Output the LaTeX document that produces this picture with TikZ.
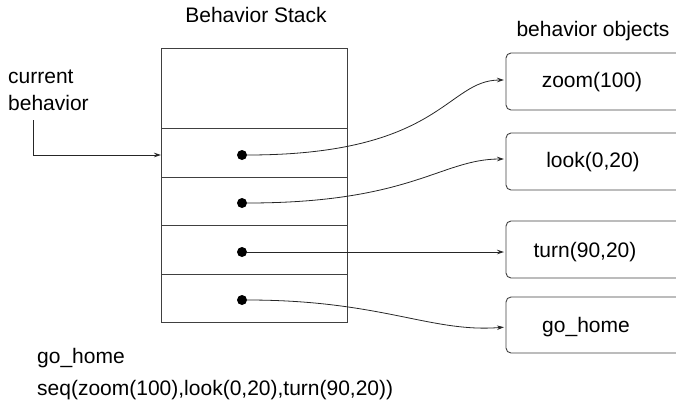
\documentclass[tikz,border=0pt]{standalone}
\usepackage{fontspec}
\setmainfont{Liberation Sans}
\usetikzlibrary{arrows.meta}
\begin{document}
\begin{tikzpicture}[x=1pt,y=-1pt,
  every node/.style={font=\fontsize{21}{26.5}\selectfont},
  row/.style={draw=black!75, line width=0.9pt, minimum width=186pt, inner sep=0pt, outer sep=0pt},
  obj/.style={draw=black!75, line width=0.9pt, rounded corners=5pt, minimum width=200pt, inner sep=0pt, outer sep=0pt},
  dot/.style={circle, fill=black, minimum size=10pt, inner sep=0pt},
  lbl/.style={anchor=base, inner sep=0pt},
  txt/.style={anchor=base west, inner sep=0pt},
  conn/.style={draw=black!85, line width=0.8pt, -{Stealth[length=7pt,width=4.5pt]}}
]
\useasboundingbox (0,0) rectangle (676,405);
\clip (0,0) rectangle (676,405);

% titles
\node[lbl] (title) at (256,22) {Behavior Stack};
\node[lbl] (objt) at (593,36) {behavior objects};

% stack
\node[row, minimum height=80pt] (r0) at (254,88) {};
\node[row, minimum height=49pt] (r1) at (254,152.5) {};
\node[row, minimum height=48pt] (r2) at (254,201) {};
\node[row, minimum height=49pt] (r3) at (254,249.5) {};
\node[row, minimum height=48pt] (r4) at (254,298) {};

\node[dot] (d1) at (242,155) {};
\node[dot] (d2) at (242,203) {};
\node[dot] (d3) at (242,252) {};
\node[dot] (d4) at (242,300) {};

% behavior objects
\node[obj, minimum height=57pt] (b1) at (606,81.5) {};
\node[obj, minimum height=57pt] (b2) at (606,161.5) {};
\node[obj, minimum height=57pt] (b3) at (606,249.5) {};
\node[obj, minimum height=56pt] (b4) at (606,325) {};

\node[lbl] (t1) at (592,87) {zoom(100)};
\node[lbl] (t2) at (593,167) {look(0,20)};
\node[lbl] (t3) at (585,257) {turn(90,20)};
\node[lbl] (t4) at (586,332) {go\_home};

% current behavior
\node[txt, align=left] (cur) at (8,110) {current\\behavior};
\coordinate (cbs) at (33,120);
\draw[conn] (cbs) |- ([yshift=-2.5pt]r1.west);

% connectors
\draw[conn, shorten >=2pt] (d1) .. controls +(200,0) and +(-60,0) .. ([yshift=1.5pt]b1.west);
\draw[conn, shorten >=2pt] (d2) .. controls +(170,0) and +(-65,0) .. ([yshift=2.5pt]b2.west);
\draw[conn, shorten >=2pt] (d3) -- (d3 -| b3.west);
\draw[conn, shorten >=2pt] (d4) .. controls +(140,0) and +(-75,6) .. ([yshift=-2pt]b4.west);

% bottom text
\node[txt] (gh) at (37,363) {go\_home};
\node[txt] (sq) at (37,395) {seq(zoom(100),look(0,20),turn(90,20))};
\end{tikzpicture}
\end{document}
